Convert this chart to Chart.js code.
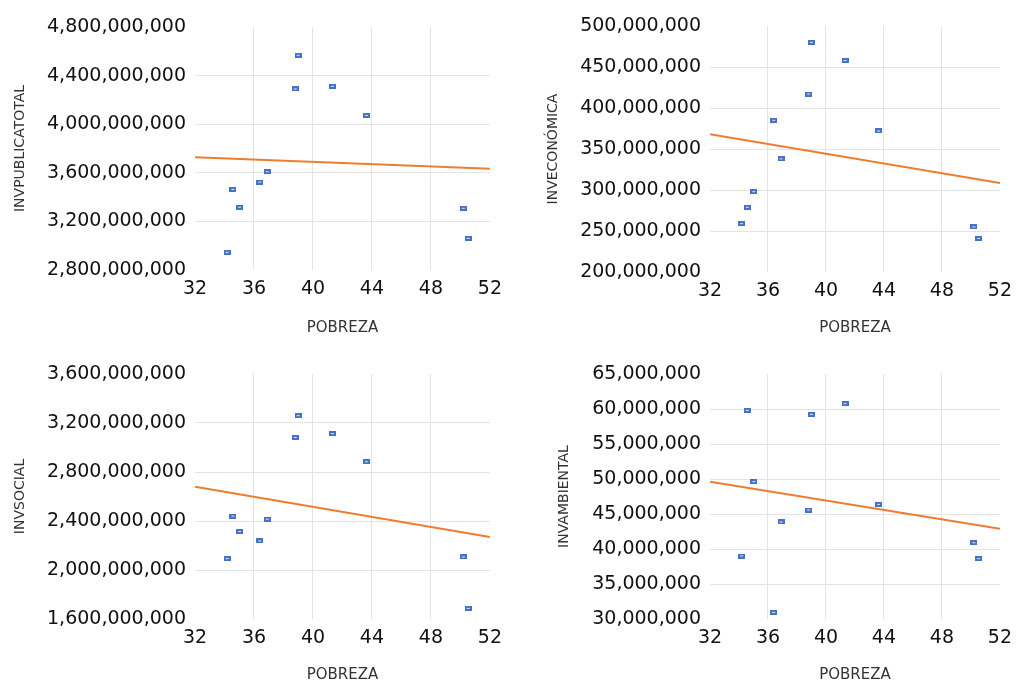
<!DOCTYPE html>
<html>
<head>
<meta charset="utf-8">
<script src="https://cdn.jsdelivr.net/npm/chart.js@4.4.1/dist/chart.umd.min.js"></script>
<style>
  body { margin: 0; background: #fff; width: 1020px; height: 683px; position: relative; overflow: hidden; }
  canvas { position: absolute; }
</style>
</head>
<body>
<canvas id="c1" width="510" height="345" style="left:0;top:0"></canvas>
<canvas id="c2" width="510" height="345" style="left:510px;top:0"></canvas>
<canvas id="c3" width="510" height="338" style="left:0;top:345px"></canvas>
<canvas id="c4" width="510" height="338" style="left:510px;top:345px"></canvas>
<script>
// pobreza (%) per observation, shared by all four panels
const pobreza = [34.18, 34.57, 35.02, 36.39, 36.9, 38.8, 38.99, 41.32, 43.62, 50.2, 50.53];

const invPublicaTotal = [2946000000, 3464000000, 3316000000, 3524000000, 3609000000, 4290000000, 4567000000, 4312000000, 4073000000, 3308000000, 3061000000];
const invEconomica = [259000000, 279000000, 298000000, 385000000, 338000000, 417000000, 480000000, 458000000, 372000000, 255000000, 241000000];
const invSocial = [2093000000, 2440000000, 2314000000, 2237000000, 2415000000, 3083000000, 3260000000, 3113000000, 2884000000, 2107000000, 1687000000];
const invAmbiental = [39000000, 59800000, 49620000, 30950000, 43860000, 45570000, 59240000, 60760000, 46380000, 40900000, 38620000];

// trend line ends at x = 32 and x = 52
const trendX = [32, 52];
const trendPublicaTotal = [3729000000, 3633000000];
const trendEconomica = [368000000, 308500000];
const trendSocial = [2679000000, 2270000000];
const trendAmbiental = [49620000, 42900000];

// small blue box marker like the spreadsheet one
const marker = document.createElement('canvas');
marker.width = 7; marker.height = 5;
const mctx = marker.getContext('2d');
mctx.fillStyle = '#4472C4';
mctx.fillRect(0, 0, 7, 5);
mctx.fillStyle = '#dfe7f5';
mctx.fillRect(2, 2, 3, 1);

const hideEnds = ctx => (ctx.index === 0 || ctx.index === ctx.chart.scales[ctx.scale.id].ticks.length - 1) ? 'rgba(0,0,0,0)' : '#e4e4e4';

function makeChart(id, title, yVals, trendVals, yMin, yMax, yStep, box) {
  const pts = pobreza.map((x, i) => ({ x: x, y: yVals[i] }));
  const trend = trendX.map((x, i) => ({ x: x, y: trendVals[i] }));
  new Chart(document.getElementById(id), {
    type: 'scatter',
    data: {
      datasets: [
        { data: pts, pointStyle: marker, pointRadius: 3, order: 1 },
        { data: trend, showLine: true, pointRadius: 0, borderColor: '#ED7D31', borderWidth: 2, order: 0 }
      ]
    },
    options: {
      responsive: false,
      animation: false,
      devicePixelRatio: 1,
      layout: { padding: { top: box.top, right: box.right, left: 0, bottom: 0 } },
      plugins: { legend: { display: false }, tooltip: { enabled: false } },
      scales: {
        x: {
          type: 'linear', min: 32, max: 52,
          ticks: { stepSize: 4, padding: 8, color: '#111', font: { family: 'DejaVu Sans', size: 19 } },
          grid: { color: hideEnds, drawTicks: false },
          border: { display: false },
          title: { display: true, text: 'POBREZA', color: '#333',
                   font: { family: 'DejaVu Sans', size: 15, lineHeight: 1 }, padding: { top: 0, bottom: box.xTitlePad } },
          afterFit: s => { s.height = box.xHeight; }
        },
        y: {
          min: yMin, max: yMax,
          ticks: { stepSize: yStep, padding: 9, color: '#111', font: { family: 'DejaVu Sans', size: 19 },
                   callback: v => v.toLocaleString('en-US') },
          grid: { color: hideEnds, drawTicks: false },
          border: { display: false },
          title: { display: true, text: title, color: '#333',
                   font: { family: 'DejaVu Sans', size: 14, lineHeight: 1 }, padding: { top: box.yTitlePad, bottom: 0 } },
          afterFit: s => { s.width = box.left; }
        }
      }
    }
  });
}

makeChart('c1', 'INVPUBLICATOTAL', invPublicaTotal, trendPublicaTotal, 2800000000, 4800000000, 400000000,
  { top: 27, right: 20, left: 195, xHeight: 75, xTitlePad: 9.5, yTitlePad: 13 });
makeChart('c2', 'INVECONÓMICA', invEconomica, trendEconomica, 200000000, 500000000, 50000000,
  { top: 26, right: 12, left: 200, xHeight: 73, xTitlePad: 9.5, yTitlePad: 36 });
makeChart('c3', 'INVSOCIAL', invSocial, trendSocial, 1600000000, 3600000000, 400000000,
  { top: 29, right: 20, left: 195, xHeight: 64, xTitlePad: 0.5, yTitlePad: 13 });
makeChart('c4', 'INVAMBIENTAL', invAmbiental, trendAmbiental, 30000000, 65000000, 5000000,
  { top: 29, right: 12, left: 200, xHeight: 64, xTitlePad: 0.5, yTitlePad: 47 });
</script>
</body>
</html>
